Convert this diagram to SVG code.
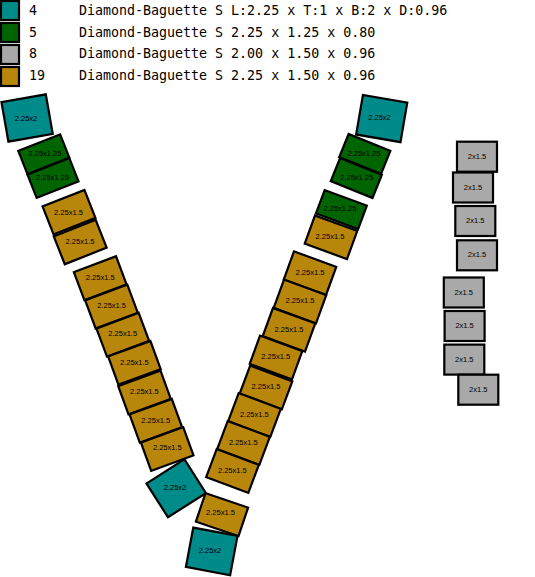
<svg xmlns="http://www.w3.org/2000/svg" width="535" height="577" viewBox="0 0 535 577">
<style>
.teal{fill:#008B8B;stroke:#000;stroke-width:2.2}
.green{fill:#006400;stroke:#000;stroke-width:2.2}
.gray{fill:#A9A9A9;stroke:#000;stroke-width:2.2}
.gold{fill:#B8860B;stroke:#000;stroke-width:2.2}
.lbl{font-family:"Liberation Sans",Arial,sans-serif;font-size:7.5px;fill:#000;text-anchor:middle;dominant-baseline:central}
.leg{font-family:"DejaVu Sans Mono","Liberation Mono",monospace;font-size:13.3px;fill:#000}
</style>
<defs>
<rect id="rT" x="-22.5" y="-20" width="45" height="40"/>
<rect id="rG" x="-22.5" y="-12.5" width="45" height="25"/>
<rect id="rY" x="-22.5" y="-15" width="45" height="30"/>
<rect id="rS" x="-20" y="-15" width="40" height="30"/>
</defs>
<rect width="535" height="577" fill="#fff"/>
<g id="legend">
<rect class="teal" x="1" y="1" width="18" height="19"/>
<rect class="green" x="1" y="23" width="18" height="19"/>
<rect class="gray" x="1" y="45" width="18" height="19"/>
<rect class="gold" x="1" y="67" width="18" height="19"/>
<text class="leg" x="29" y="15">4</text>
<text class="leg" x="79" y="15">Diamond-Baguette S L:2.25 x T:1 x B:2 x D:0.96</text>
<text class="leg" x="29" y="36.7">5</text>
<text class="leg" x="79" y="36.7">Diamond-Baguette S 2.25 x 1.25 x 0.80</text>
<text class="leg" x="29" y="58.4">8</text>
<text class="leg" x="79" y="58.4">Diamond-Baguette S 2.00 x 1.50 x 0.96</text>
<text class="leg" x="29" y="80.1">19</text>
<text class="leg" x="79" y="80.1">Diamond-Baguette S 2.25 x 1.50 x 0.96</text>
</g>
<g id="connectors"/>
<!-- left arm -->
<g id="L1"><use href="#rT" class="teal" transform="translate(27.1,118) rotate(-10)"/><text class="lbl" x="26" y="118">2.25x2</text></g>
<g id="L2"><use href="#rG" class="green" transform="translate(43.8,154.2) rotate(-21.5)"/><text class="lbl" x="45" y="153.5">2.25x1.25</text></g>
<g id="L3"><use href="#rG" class="green" transform="translate(53,178) rotate(-21.5)"/><text class="lbl" x="52.5" y="177.5">2.25x1.25</text></g>
<g id="L4"><use href="#rY" class="gold" transform="translate(69,212.2) rotate(-21.5)"/><text class="lbl" x="68.5" y="212">2.25x1.5</text></g>
<g id="L5"><use href="#rY" class="gold" transform="translate(80.2,242) rotate(-21.5)"/><text class="lbl" x="80" y="241.5">2.25x1.5</text></g>
<g id="L6"><use href="#rY" class="gold" transform="translate(100.2,278.2) rotate(-20.5)"/><text class="lbl" x="100.2" y="277">2.25x1.5</text></g>
<g id="L7"><use href="#rY" class="gold" transform="translate(111.5,306.6) rotate(-20.5)"/><text class="lbl" x="111.6" y="305.5">2.25x1.5</text></g>
<g id="L8"><use href="#rY" class="gold" transform="translate(122.8,334.7) rotate(-20.5)"/><text class="lbl" x="122.7" y="333.7">2.25x1.5</text></g>
<g id="L9"><use href="#rY" class="gold" transform="translate(134.4,362.8) rotate(-20)"/><text class="lbl" x="134.4" y="362">2.25x1.5</text></g>
<g id="L10"><use href="#rY" class="gold" transform="translate(144.5,392.5) rotate(-20)"/><text class="lbl" x="144.4" y="391.8">2.25x1.5</text></g>
<g id="L11"><use href="#rY" class="gold" transform="translate(155.8,420.8) rotate(-20)"/><text class="lbl" x="155.7" y="420">2.25x1.5</text></g>
<g id="L12"><use href="#rY" class="gold" transform="translate(167.2,449) rotate(-20)"/><text class="lbl" x="167.3" y="447.8">2.25x1.5</text></g>
<!-- bottom -->
<g id="B1"><use href="#rT" class="teal" transform="translate(176.2,488.3) rotate(-32.5)"/><text class="lbl" x="175" y="487.8">2.25x2</text></g>
<g id="B2"><use href="#rY" class="gold" transform="translate(222,514.6) rotate(18.7)"/><text class="lbl" x="220.5" y="512.5">2.25x1.5</text></g>
<g id="B3"><use href="#rT" class="teal" transform="translate(211.7,551.4) rotate(10.6)"/><text class="lbl" x="210" y="550.8">2.25x2</text></g>
<!-- right arm -->
<g id="R1"><use href="#rT" class="teal" transform="translate(381.7,118.6) rotate(9.8)"/><text class="lbl" x="379.5" y="117.8">2.25x2</text></g>
<g id="R2"><use href="#rG" class="green" transform="translate(364.8,154) rotate(22)"/><text class="lbl" x="364" y="153.4">2.25x1.25</text></g>
<g id="R3"><use href="#rG" class="green" transform="translate(356.3,178) rotate(22)"/><text class="lbl" x="356.7" y="177.4">2.25x1.25</text></g>
<g id="R4"><use href="#rG" class="green" transform="translate(341.4,209.6) rotate(20.4)"/><text class="lbl" x="340" y="208.5">2.25x1.25</text></g>
<g id="R5"><use href="#rY" class="gold" transform="translate(331,237.3) rotate(20)"/><text class="lbl" x="330" y="236.8">2.25x1.5</text></g>
<g id="R6"><use href="#rY" class="gold" transform="translate(310,273.2) rotate(20)"/><text class="lbl" x="310" y="272.4">2.25x1.5</text></g>
<g id="R7"><use href="#rY" class="gold" transform="translate(300,301.5) rotate(20)"/><text class="lbl" x="300" y="300.8">2.25x1.5</text></g>
<g id="R8"><use href="#rY" class="gold" transform="translate(289,329.8) rotate(20)"/><text class="lbl" x="289" y="329">2.25x1.5</text></g>
<g id="R9"><use href="#rY" class="gold" transform="translate(276,357.5) rotate(20)"/><text class="lbl" x="275.7" y="356.8">2.25x1.5</text></g>
<g id="R10"><use href="#rY" class="gold" transform="translate(266,387.5) rotate(20.5)"/><text class="lbl" x="266" y="386.8">2.25x1.5</text></g>
<g id="R11"><use href="#rY" class="gold" transform="translate(254.5,415) rotate(20.5)"/><text class="lbl" x="254.3" y="414.4">2.25x1.5</text></g>
<g id="R12"><use href="#rY" class="gold" transform="translate(243.5,443) rotate(20.5)"/><text class="lbl" x="243.3" y="442.4">2.25x1.5</text></g>
<g id="R13"><use href="#rY" class="gold" transform="translate(232.5,471) rotate(20.5)"/><text class="lbl" x="232.3" y="470.2">2.25x1.5</text></g>
<!-- gray column -->
<g id="G1"><use href="#rS" class="gray" transform="translate(477,156.7)"/><text class="lbl" x="477" y="156.2">2x1.5</text></g>
<g id="G2"><use href="#rS" class="gray" transform="translate(473,187.5)"/><text class="lbl" x="473" y="187">2x1.5</text></g>
<g id="G3"><use href="#rS" class="gray" transform="translate(475.3,221)"/><text class="lbl" x="475.3" y="220.5">2x1.5</text></g>
<g id="G4"><use href="#rS" class="gray" transform="translate(477,255.3)"/><text class="lbl" x="477" y="254.8">2x1.5</text></g>
<g id="G5"><use href="#rS" class="gray" transform="translate(463.8,292.5)"/><text class="lbl" x="463.8" y="292">2x1.5</text></g>
<g id="G6"><use href="#rS" class="gray" transform="translate(464.6,326)"/><text class="lbl" x="464.6" y="325.5">2x1.5</text></g>
<g id="G7"><use href="#rS" class="gray" transform="translate(464.3,359.6)"/><text class="lbl" x="464.3" y="359.1">2x1.5</text></g>
<g id="G8"><use href="#rS" class="gray" transform="translate(478.3,389.7)"/><text class="lbl" x="478.3" y="389.2">2x1.5</text></g>
</svg>
